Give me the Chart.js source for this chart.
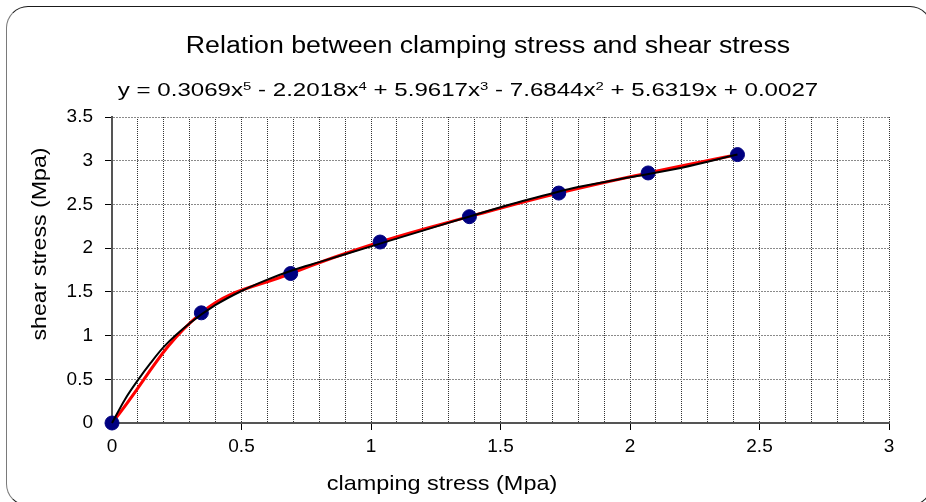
<!DOCTYPE html>
<html>
<head>
<meta charset="utf-8">
<script src="https://cdn.jsdelivr.net/npm/chart.js@4.4.1/dist/chart.umd.min.js"></script>
<style>
  html, body { margin: 0; padding: 0; background: #fff; }
  #wrap { position: relative; width: 926px; height: 502px; overflow: hidden; font-family: "Liberation Sans", Arial, sans-serif; color: #000; }
  #chart { position: absolute; left: 0; top: 0; }
  .frame { position: absolute; left: 6px; top: 6px; width: 926px; height: 500px; box-sizing: border-box; border: 1.5px solid #1a1a1a; border-left-color: #7a7a7a; border-radius: 22px; pointer-events: none; }
  .txt { position: absolute; white-space: nowrap; line-height: 1; transform-origin: center center; }
  .txt sup { font-size: 0.62em; vertical-align: 0.5em; line-height: 0; }
</style>
</head>
<body>
<div id="wrap">
  <canvas id="chart" width="926" height="502"></canvas>
  <div class="txt" id="title" style="font-size:23px; top:33.5px;" data-cx="488" data-w="604">Relation between clamping stress and shear stress</div>
  <div class="txt" id="equation" style="font-size:18px; top:81px;" data-cx="468" data-w="700">y = 0.3069x<sup>5</sup> - 2.2018x<sup>4</sup> + 5.9617x<sup>3</sup> - 7.6844x<sup>2</sup> + 5.6319x + 0.0027</div>
  <div class="txt" id="xtitle" style="font-size:21px; top:472px;" data-cx="442" data-w="231">clamping stress (Mpa)</div>
  <div class="txt" id="ytitle" style="font-size:21px;" data-cx="38" data-cy="244" data-w="193" data-rot="1">shear stress (Mpa)</div>
  <div class="frame"></div>
</div>
<script>
// measured points
const clampingStress = [0, 0.345, 0.69, 1.035, 1.38, 1.725, 2.07, 2.415];
const shearStress = [0, 1.26, 1.71, 2.07, 2.36, 2.63, 2.86, 3.07];

// polynomial trendline
const trendX = [0, 0.05, 0.1, 0.15, 0.2, 0.3, 0.4, 0.5, 0.6, 0.7, 0.8, 0.9, 1.0, 1.2, 1.4, 1.6, 1.8, 2.0, 2.2, 2.415];
const trendY = [0, 0.27, 0.49, 0.69, 0.87, 1.14, 1.35, 1.51, 1.64, 1.75, 1.84, 1.93, 2.02, 2.2, 2.38, 2.55, 2.7, 2.81, 2.92, 3.07];

const xTickLabels = ["0", "0.5", "1", "1.5", "2", "2.5", "3"];
const yTickLabels = ["0", "0.5", "1", "1.5", "2", "2.5", "3", "3.5"];

const isMajor = (v) => Math.abs(v * 2 - Math.round(v * 2)) < 1e-6;

document.querySelectorAll(".txt").forEach((el) => {
  const k = Number(el.dataset.w) / el.offsetWidth;
  el.style.left = el.dataset.cx + "px";
  if (el.dataset.rot) {
    el.style.top = el.dataset.cy + "px";
    el.style.transform = `translate(-50%, -50%) rotate(-90deg) scaleX(${k})`;
  } else {
    el.style.transform = `translateX(-50%) scaleX(${k})`;
  }
});

const tickFont = { family: "'Liberation Sans', Arial, sans-serif", size: 19 };

new Chart(document.getElementById("chart"), {
  type: "scatter",
  data: {
    datasets: [
      {
        label: "trend",
        data: trendX.map((x, i) => ({ x, y: trendY[i] })),
        showLine: true,
        borderColor: "#000",
        borderWidth: 2,
        pointRadius: 0,
        cubicInterpolationMode: "monotone",
        clip: false,
        order: 0
      },
      {
        label: "shear stress",
        data: clampingStress.map((x, i) => ({ x, y: shearStress[i] })),
        showLine: true,
        borderColor: "#ff0000",
        borderWidth: 3,
        tension: 0.4,
        pointRadius: 7,
        pointBackgroundColor: "#000080",
        pointBorderColor: "#000080",
        pointBorderWidth: 1,
        clip: false,
        order: 1
      }
    ]
  },
  options: {
    responsive: false,
    animation: false,
    layout: { padding: { top: 117, right: 37, bottom: 0, left: 0 } },
    plugins: { legend: { display: false }, tooltip: { enabled: false } },
    scales: {
      x: {
        type: "linear",
        min: 0,
        max: 3,
        afterFit: (scale) => { scale.height = 79; },
        ticks: {
          stepSize: 0.1,
          maxTicksLimit: 100,
          autoSkip: false,
          maxRotation: 0,
          padding: 5,
          color: "#000",
          font: tickFont,
          callback: (v) => (isMajor(v) ? xTickLabels[Math.round(v * 2)] : "")
        },
        grid: {
          color: "#333",
          lineWidth: 1,
          tickLength: 7,
          tickBorderDash: [],
          tickColor: (ctx) => (ctx.tick && isMajor(ctx.tick.value) ? "#000" : "rgba(0,0,0,0)")
        },
        border: { display: true, color: "#555", width: 2, dash: [1, 1] }
      },
      y: {
        type: "linear",
        min: 0,
        max: 3.5,
        afterFit: (scale) => { scale.width = 112; },
        ticks: {
          stepSize: 0.5,
          autoSkip: false,
          padding: 12,
          color: "#000",
          font: tickFont,
          callback: (v) => yTickLabels[Math.round(v * 2)]
        },
        grid: {
          color: "#8a8a8a",
          lineWidth: 1,
          tickLength: 7,
          tickBorderDash: [],
          tickColor: "#000"
        },
        border: { display: true, color: "#555", width: 2, dash: [2, 1] }
      }
    }
  }
});
</script>
</body>
</html>
